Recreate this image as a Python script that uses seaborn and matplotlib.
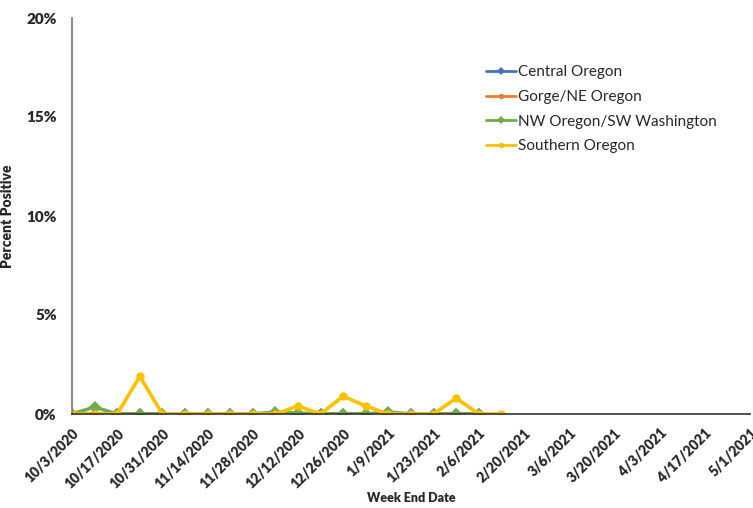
import numpy as np
import matplotlib.pyplot as plt
import seaborn as sns
import pandas as pd

# week end dates on the axis (10/3/2020 .. 5/1/2021)
week_ends = pd.date_range("2020-10-03", "2021-05-01", freq="7D")
tick_labels = ["10/3/2020", "10/17/2020", "10/31/2020", "11/14/2020", "11/28/2020",
               "12/12/2020", "12/26/2020", "1/9/2021", "1/23/2021", "2/6/2021",
               "2/20/2021", "3/6/2021", "3/20/2021", "4/3/2021", "4/17/2021", "5/1/2021"]

regions = ["Central Oregon", "Gorge/NE Oregon", "NW Oregon/SW Washington", "Southern Oregon"]

# percent positive per week
central = [0.0] * 19
gorge = [0.0] * 19
nw_sw = [0.0, 0.35, 0.0, 0.0, 0.0, 0.0, 0.0, 0.0, 0.0, 0.1, 0.05, 0.0, 0.0, 0.0, 0.1,
         0.0, 0.0, 0.0, 0.0]
southern = [0.0, 0.0, 0.0, 1.9, 0.0, 0.0, 0.0, 0.0, 0.0, 0.0, 0.4, 0.0, 0.9, 0.4, 0.0,
            0.0, 0.0, 0.8, 0.0, 0.0]

colors = ["#4472C4", "#ED7D31", "#70AD47", "#FFC000"]
markers = ["D", "o", "D", "o"]

rows = []
for reg, vals in zip(regions, [central, gorge, nw_sw, southern]):
    for d, v in zip(week_ends, vals):
        rows.append({"Week": d, "Region": reg, "Pct": v})
df = pd.DataFrame(rows)

sns.set_style("white")
plt.rcParams['font.family'] = ['Lato', 'DejaVu Sans']

fig = plt.figure(figsize=(7.53, 5.08), dpi=100)
ax = fig.add_axes([72 / 753, 1 - 414 / 508, 678 / 753, 396 / 508])

for reg, col, mk in zip(regions, colors, markers):
    sub = df[df["Region"] == reg]
    sns.lineplot(data=sub, x="Week", y="Pct", color=col, marker=mk, markersize=6,
                 markeredgewidth=0, linewidth=2.6, label=reg, ax=ax)

ax.set_xlim(week_ends[0], week_ends[-1])
ax.set_ylim(0, 20)
ax.set_yticks([0, 5, 10, 15, 20])
ax.set_yticklabels([f"{v}%" for v in [0, 5, 10, 15, 20]], fontweight='heavy', fontsize=11)
ax.set_xticks(week_ends[::2])
ax.set_xticklabels(tick_labels, rotation=45, ha='right', rotation_mode='anchor',
                   fontweight='heavy', fontsize=10)
ax.tick_params(axis='x', direction='out', length=5, width=1, color='#333333', pad=4)
ax.tick_params(axis='y', direction='out', length=5, width=1, color='#777777', pad=6)

for s in ['top', 'right']:
    ax.spines[s].set_visible(False)
ax.spines['left'].set_color('#777777')
ax.spines['bottom'].set_color('#333333')
ax.spines['left'].set_linewidth(1.2)
ax.spines['bottom'].set_linewidth(1.2)

ax.set_ylabel("Percent Positive", fontweight='heavy', fontsize=10, labelpad=9)
ax.set_xlabel("Week End Date", fontweight='heavy', fontsize=9, labelpad=1)

leg = ax.legend(loc='upper left', bbox_to_anchor=(0.59, 0.915), frameon=False,
                fontsize=11, handlelength=2.0, handletextpad=0.1, labelspacing=0.7)
for h in leg.legend_handles:
    h.set_markersize(4)
    h.set_linewidth(2)

fig.savefig("out.png", dpi=100)
